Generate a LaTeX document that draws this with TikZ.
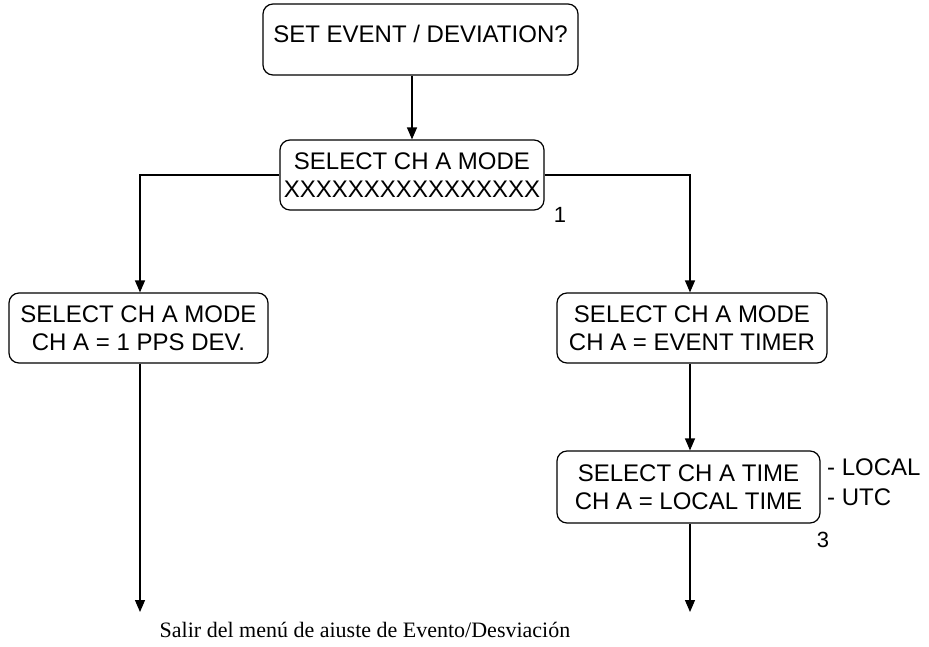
\documentclass[tikz,border=0pt]{standalone}
\usepackage{fontspec}
\setmainfont{Liberation Sans}
\newfontfamily\capfont{Liberation Serif}
\usetikzlibrary{arrows.meta}
\begin{document}
\begin{tikzpicture}[x=1pt,y=-1pt,
  menubox/.style={draw, line width=1.2pt, rounded corners=10pt, align=center,
    inner sep=0pt, font=\fontsize{24}{28}\selectfont},
  flow/.style={line width=1.2pt, -{Triangle[length=12pt,width=10pt]}},
  tag/.style={font=\fontsize{22}{26}\selectfont, inner sep=0pt}]
\useasboundingbox (0,0) rectangle (929,646);

% menu screens
\node[menubox, minimum width=315pt, minimum height=71pt,
      text height=17pt, text depth=12pt] (b1) at (420.5,39.5)
  {SET EVENT / DEVIATION?};
\node[menubox, minimum width=264pt, minimum height=70pt] (b2) at (412,175)
  {SELECT CH A MODE\\XXXXXXXXXXXXXXXX};
\node[menubox, minimum width=259pt, minimum height=70pt] (b3) at (138.5,328)
  {SELECT CH A MODE\\CH A = 1 PPS DEV.};
\node[menubox, minimum width=270pt, minimum height=70pt] (b4) at (692,328)
  {SELECT CH A MODE\\CH A = EVENT TIMER};
\node[menubox, minimum width=263pt, minimum height=72pt] (b5) at (688.5,487)
  {SELECT CH A TIME\\CH A = LOCAL TIME};

% side notes
\node[tag] (n1) at (560,215) {1};
\node[tag] (n3) at (823,540) {3};
\node[font=\fontsize{24}{28}\selectfont, inner sep=0pt, anchor=west] (loc) at (827,467) {- LOCAL};
\node[font=\fontsize{24}{28}\selectfont, inner sep=0pt, anchor=west] (utc) at (827,497) {- UTC};

% exit caption
\node[font=\capfont\fontsize{22}{26}\selectfont, inner sep=0pt] (exit) at (365,630)
  {Salir del menú de aiuste de Evento/Desviación};

% connectors
\coordinate (e3) at (140,612);
\coordinate (e5) at (690,612);
\draw[flow] (b2.north |- b1.south) -- (b2.north);
\draw[flow] (b2.west) -| (140,0 |- b3.north);
\draw[flow] (b2.east) -| (690,0 |- b4.north);
\draw[flow] (690,0 |- b4.south) -- (690,0 |- b5.north);
\draw[flow] (140,0 |- b3.south) -- (e3);
\draw[flow] (690,0 |- b5.south) -- (e5);
\end{tikzpicture}
\end{document}
